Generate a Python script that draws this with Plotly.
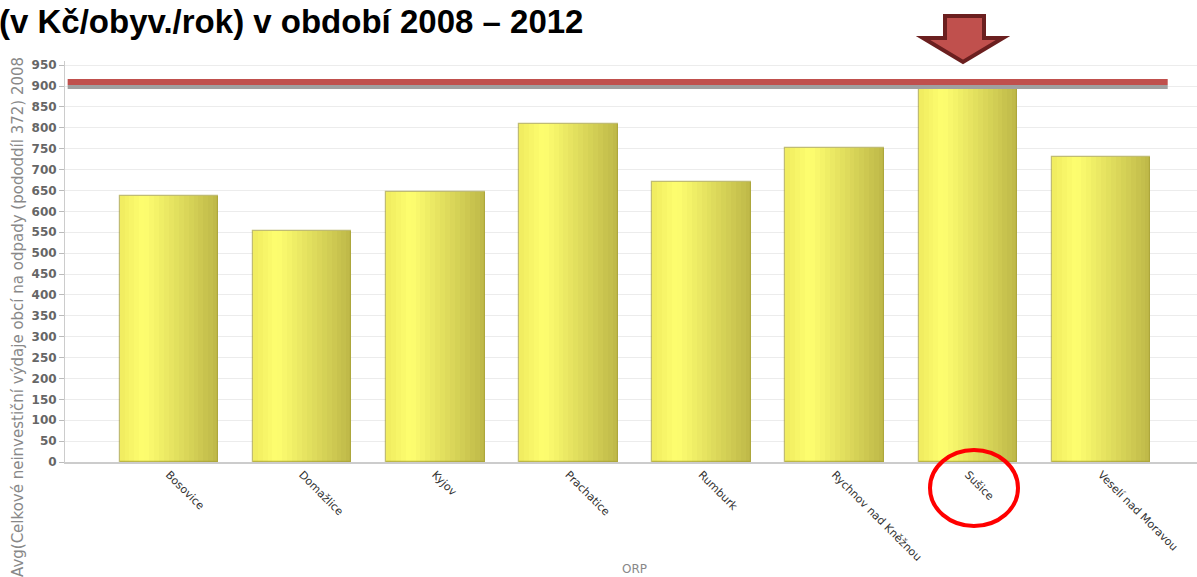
import plotly.graph_objects as go

categories = ["Bosovice", "Domažlice", "Kyjov", "Prachatice", "Rumburk",
              "Rychnov nad Kněžnou", "Sušice", "Veselí nad Moravou"]
values = [636, 554, 646, 810, 670, 752, 902, 730]
ref_red = 910
ref_gray = 898
y_ticks = list(range(0, 951, 50))
title_text = "(v Kč/obyv./rok) v období 2008 – 2012"
y_title = "Avg(Celkové neinvestiční výdaje obcí na odpady (pododdíl 372) 2008"
x_title = "ORP"

xpos = list(range(len(categories)))
bar_w = 0.74
n_slices = 20

def grad_color(t):
    c_left = (240, 236, 96)
    c_peak = (255, 255, 112)
    c_right = (190, 184, 72)
    if t < 0.25:
        a = t / 0.25
        c = [c_left[i] + (c_peak[i] - c_left[i]) * a for i in range(3)]
    else:
        a = (t - 0.25) / 0.75
        c = [c_peak[i] + (c_right[i] - c_peak[i]) * a for i in range(3)]
    return "rgb(%d,%d,%d)" % tuple(int(v) for v in c)

fig = go.Figure()
sw = bar_w / n_slices
for k in range(n_slices):
    t = (k + 0.5) / n_slices
    fig.add_trace(go.Bar(
        x=xpos, y=values, width=sw * 1.02,
        offset=-bar_w / 2 + k * sw,
        marker=dict(color=grad_color(t), line=dict(width=0)),
        showlegend=False, hoverinfo="skip"))
fig.add_trace(go.Bar(
    x=xpos, y=values, width=bar_w,
    marker=dict(color="rgba(0,0,0,0)", line=dict(width=1.2, color="rgba(165,160,55,0.7)")),
    showlegend=False, hoverinfo="skip"))

x_lo, x_hi = -0.78, 7.72
fig.add_trace(go.Scatter(x=[-0.76, 7.5], y=[ref_gray, ref_gray], mode="lines",
                         line=dict(color="#a0a0a0", width=4), showlegend=False, hoverinfo="skip"))
fig.add_trace(go.Scatter(x=[-0.76, 7.5], y=[ref_red, ref_red], mode="lines",
                         line=dict(color="#c0504d", width=6), showlegend=False, hoverinfo="skip"))

L, T, B = 65, 61, 115
W, H = 1197, 577
PW, PH = W - L, H - T - B

fig.update_layout(
    width=W, height=H,
    margin=dict(l=L, r=0, t=T, b=B, autoexpand=False),
    paper_bgcolor="white", plot_bgcolor="white",
    barmode="overlay", bargap=0,
    font=dict(family="DejaVu Sans", color="#666"),
)
fig.update_xaxes(
    range=[x_lo, x_hi], tickvals=xpos, ticktext=categories, tickangle=45,
    tickfont=dict(size=11, color="#333", family="DejaVu Sans"),
    showgrid=False, showline=True, linecolor="#cccccc", linewidth=2,
    ticks="", zeroline=False, automargin=False,
)
fig.update_yaxes(
    range=[0, 960], tickvals=y_ticks,
    tickfont=dict(size=12, color="#666", family="DejaVu Sans", weight="bold"),
    showgrid=True, gridcolor="#ececec", gridwidth=1,
    showline=True, linecolor="#cccccc", linewidth=1,
    ticks="outside", ticklen=5, tickcolor="#bbbbbb", zeroline=False, automargin=False,
)

def px_to_paper(px, py):
    return ((px - L) / PW, (H - B - py) / PH)

tx, ty = px_to_paper(-3, 1)
fig.add_annotation(text=title_text, xref="paper", yref="paper", x=tx, y=ty,
                   xanchor="left", yanchor="top", showarrow=False,
                   font=dict(family="Liberation Sans", size=33, color="black", weight="bold"))
yx, yy = px_to_paper(18, 55)
fig.add_annotation(text=y_title, xref="paper", yref="paper", x=yx, y=yy,
                   xanchor="center", yanchor="top", showarrow=False, textangle=-90,
                   font=dict(family="DejaVu Sans", size=15, color="#888"))
ox, oy = px_to_paper(634, 569)
fig.add_annotation(text=x_title, xref="paper", yref="paper", x=ox, y=oy,
                   xanchor="center", yanchor="middle", showarrow=False,
                   font=dict(family="DejaVu Sans", size=12, color="#888"))

arrow_pts = [(945, 16), (984, 16), (984, 38), (1003, 38), (963, 62), (923, 38), (945, 38)]
pp = [px_to_paper(a, b) for a, b in arrow_pts]
path = "M " + " L ".join("%.5f,%.5f" % p for p in pp) + " Z"
fig.add_shape(type="path", xref="paper", yref="paper", path=path,
              fillcolor="#c0504d", line=dict(color="#6b1f1f", width=4))

c0 = px_to_paper(930, 450)
c1 = px_to_paper(1018, 526)
fig.add_shape(type="circle", xref="paper", yref="paper",
              x0=c0[0], y0=c1[1], x1=c1[0], y1=c0[1],
              line=dict(color="#ff0000", width=4), fillcolor="rgba(0,0,0,0)")

fig.write_html("out.html", config={"displayModeBar": False},
               post_script="document.body.style.margin='0';document.body.style.overflow='hidden';")
